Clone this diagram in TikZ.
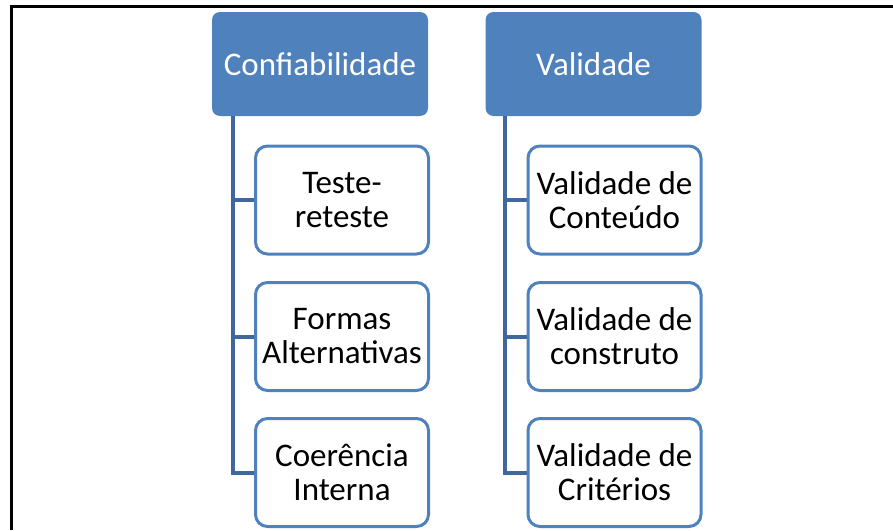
\documentclass[tikz,border=0pt]{standalone}
\usepackage{fontspec}
\setmainfont{Carlito}
\usepackage{xcolor}
\definecolor{accent}{HTML}{4F81BD}
\definecolor{connblue}{HTML}{3F68A0}
\usepackage{tikz}
\usetikzlibrary{calc,positioning}
\tikzset{
    head/.style={
    rectangle,rounded corners=4pt,fill=accent,text=white,
    minimum width=108pt,minimum height=52pt,inner sep=0pt,
    font=\fontsize{16.5}{17}\selectfont
    },
    item/.style={
    rectangle,rounded corners=6pt,draw=accent,line width=1.5pt,fill=white,
    minimum width=86.5pt,minimum height=54pt,inner sep=0pt,align=center,
    font=\fontsize{16.5}{17}\selectfont
    },
  conn/.style={draw=connblue, line width=2pt},
  frame/.style={draw=black, line width=1.5pt},
}
\begin{document}
\begin{tikzpicture}[x=0.5pt, y=-0.5pt]
   \useasboundingbox (0,0) rectangle (893,530);
   \draw[frame] (10,6) -- (893,6);
   \draw[frame] (11,6) -- (11,530);

   \node[head] (conf) at (320,64)   {Confiabilidade};
   \node[head] (val)  at (593.5,64) {Validade};

   \node[item] (teste)  at (342,200)   {Teste-\\reteste};
   \node[item] (formas) at (342,336.5) {Formas\\Alternativas};
   \node[item] (coer)   at (342,472.5) {Coerência\\Interna};

   \node[item] (vcont)  at (614.5,200)   {Validade de\\Conteúdo};
   \node[item] (vcons)  at (614.5,336.5) {Validade de\\construto};
   \node[item] (vcrit)  at (614.5,472.5) {Validade de\\Critérios};

   \coordinate (rootL) at (233,116);
   \coordinate (rootV) at (505,116);

  \path[conn]
    (rootL) |- (teste.west)
    (rootL) |- (formas.west)
    (rootL) |- (coer.west)
    (rootV) |- (vcont.west)
    (rootV) |- (vcons.west)
    (rootV) |- (vcrit.west);
\end{tikzpicture}
\end{document}
